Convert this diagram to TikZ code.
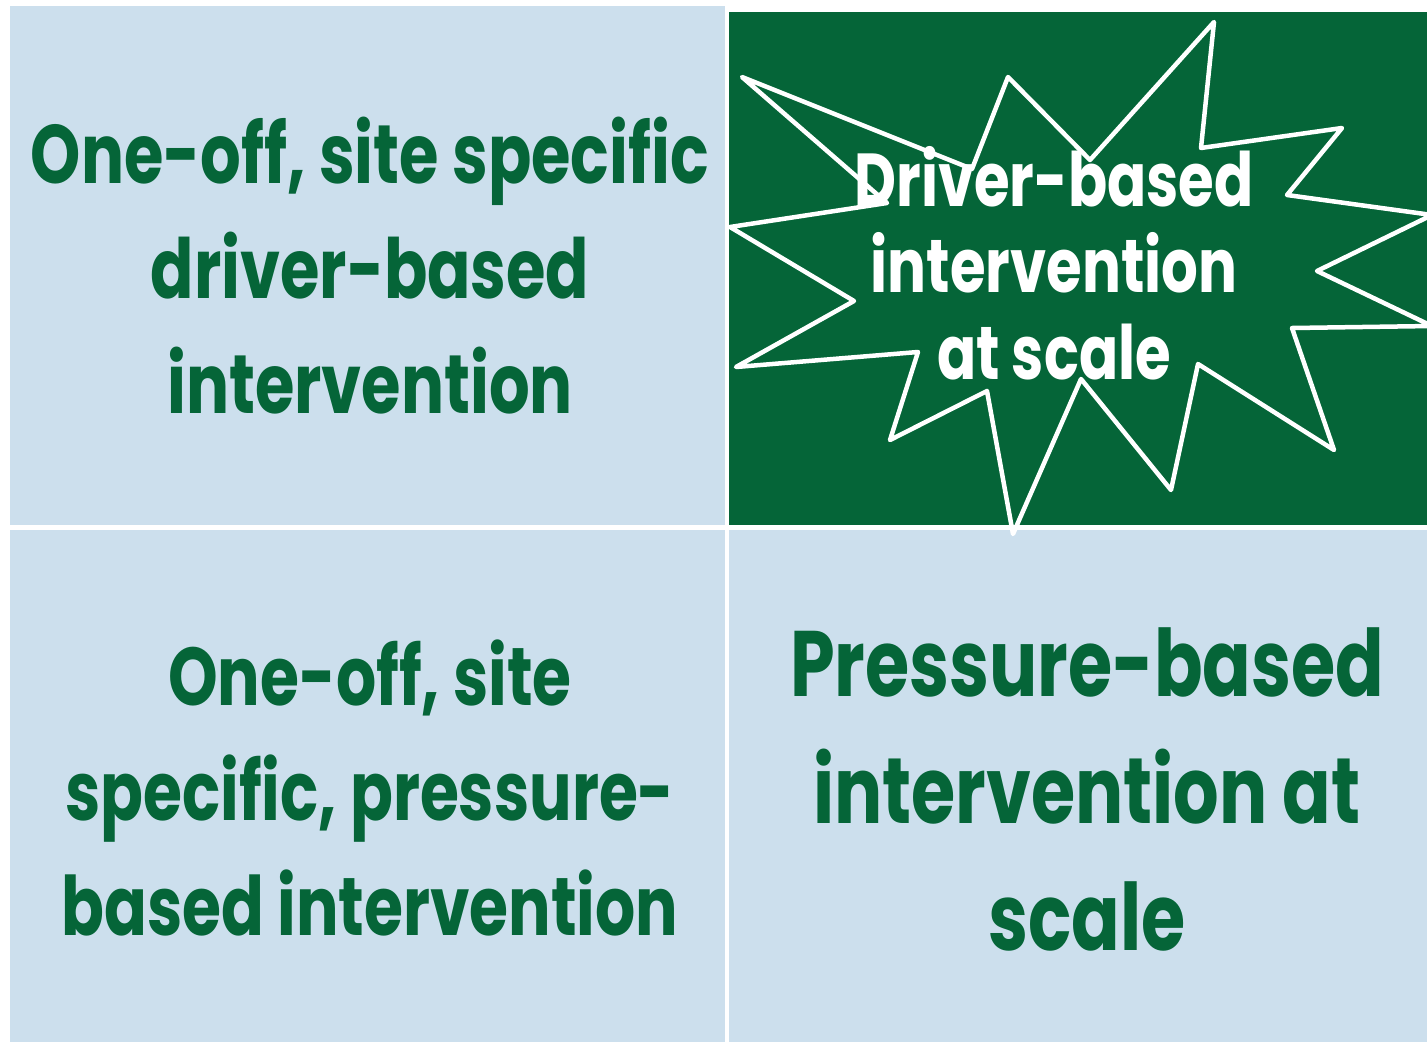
\documentclass[tikz,border=0pt]{standalone}
\usepackage{fontspec}
\newfontfamily\quadfont{Poppins}[FakeStretch=0.77]
\definecolor{paleblue}{RGB}{204,223,237}
\definecolor{deepgreen}{RGB}{5,101,56}
\tikzset{
	cell/.style={fill=paleblue, draw=none},
	label/.style={align=center, anchor=base, inner sep=0pt, text=deepgreen, font=\quadfont\bfseries},
	burst/.style={draw=white, line width=4.5pt, line join=round}
}

\begin{document}
\begin{tikzpicture}[x=1pt, y=-1pt]
	\useasboundingbox (0,0) rectangle (1427,1042);
	% the four cells
	\fill[cell] (10,6) rectangle (725,525);
	\fill[deepgreen] (729,12) rectangle (1427,525);
	\fill[cell] (10,530) rectangle (725,1042);
	\fill[cell] (729,530) rectangle (1427,1042);
	% starburst
	\draw[burst] (742,77) -- (972,169) -- (1008,77) -- (1090,160) -- (1214,22)
		-- (1201,148) -- (1342,128) -- (1287,195) -- (1432,215) -- (1317,271)
		-- (1432,326) -- (1292,328) -- (1334,450) -- (1198,364) -- (1171,490)
		-- (1081,379) -- (1013,534) -- (987,391) -- (890,440) -- (918,352)
		-- (736,367) -- (854,301) -- (730,227) -- (887,203) -- cycle;
	% texts (base = last line)
	\begin{scope}
		\clip (10,6) rectangle (706,525);
		\node[label, font=\quadfont\bfseries\fontsize{83}{115}\selectfont] (topleft) at (370,413)
			{One-off, site specific\\driver-based\\intervention};
	\end{scope}
	\node[label, text=white, font=\quadfont\bfseries\fontsize{75}{86.5}\selectfont] (topright) at (1054,379)
		{Driver-based\\intervention\\at scale};
	\node[label, font=\quadfont\bfseries\fontsize{82}{115}\selectfont] (bottomleft) at (370,935)
		{One-off, site\\specific, pressure-\\based intervention};
	\node[label, font=\quadfont\bfseries\fontsize{93}{127}\selectfont] (bottomright) at (1087,950)
		{Pressure-based\\intervention at\\scale};
\end{tikzpicture}
\end{document}
